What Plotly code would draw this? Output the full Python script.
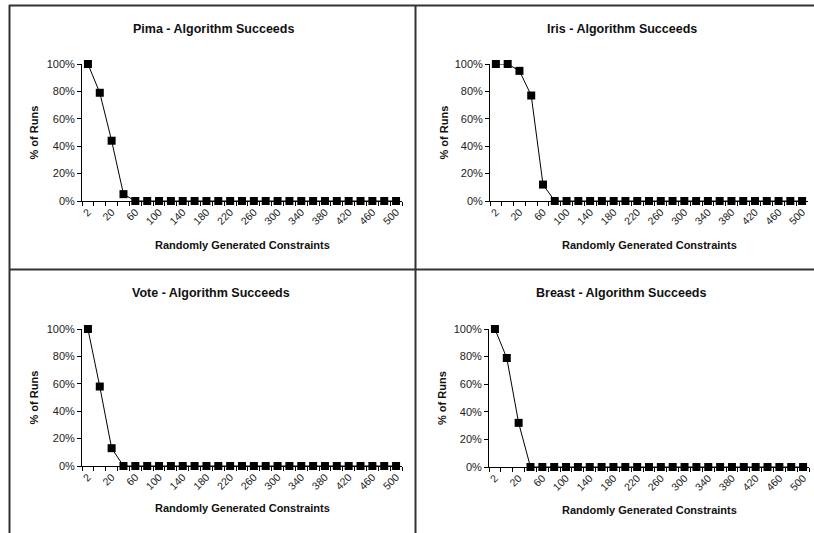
import plotly.graph_objects as go

# ---------------- data ----------------
categories = ["2", "10", "20", "40", "60", "80", "100", "120", "140", "160", "180",
              "200", "220", "240", "260", "280", "300", "320", "340", "360", "380",
              "400", "420", "440", "460", "480", "500"]
tick_labels = ["2", "20", "60", "100", "140", "180", "220", "260", "300", "340",
               "380", "420", "460", "500"]

pima = [100, 79, 44, 5, 0, 0, 0, 0, 0, 0, 0, 0, 0, 0, 0, 0, 0, 0, 0, 0, 0, 0, 0, 0, 0, 0, 0]
iris = [100, 100, 95, 77, 12, 0, 0, 0, 0, 0, 0, 0, 0, 0, 0, 0, 0, 0, 0, 0, 0, 0, 0, 0, 0, 0, 0]
vote = [100, 58, 13, 0, 0, 0, 0, 0, 0, 0, 0, 0, 0, 0, 0, 0, 0, 0, 0, 0, 0, 0, 0, 0, 0, 0, 0]
breast = [100, 79, 32, 0, 0, 0, 0, 0, 0, 0, 0, 0, 0, 0, 0, 0, 0, 0, 0, 0, 0, 0, 0, 0, 0, 0, 0]

titles = ["Pima - Algorithm Succeeds", "Iris - Algorithm Succeeds",
          "Vote - Algorithm Succeeds", "Breast - Algorithm Succeeds"]
series = [pima, iris, vote, breast]
y_title = "% of Runs"
x_title = "Randomly Generated Constraints"

# ---------------- layout (pixels) ----------------
W, H = 814, 533
FONT = "Liberation Sans, Arial, sans-serif"
# plot area: left, right, top, bottom ; title centre x, title y ; y-title x ; x-title y
geom = [
    dict(l=82, r=402, t=64, b=201, tx=213, ty=29, yx=33, xty=245),
    dict(l=490, r=808, t=64, b=201, tx=622, ty=29, yx=443, xty=245),
    dict(l=82, r=402, t=329, b=466, tx=211, ty=293, yx=33, xty=508),
    dict(l=489, r=809, t=329, b=467, tx=621, ty=293, yx=442, xty=510),
]


def fx(v):
    return v / W


def fy(v):
    return 1 - v / H


ticktext = [c if c in tick_labels else "" for c in categories]

fig = go.Figure()
annotations = []
layout_axes = {}
for i, (title, vals, g) in enumerate(zip(titles, series, geom), start=1):
    fig.add_trace(go.Scatter(
        x=categories, y=vals, mode="lines+markers",
        line=dict(color="black", width=1),
        marker=dict(symbol="square", size=8, color="black"),
        cliponaxis=False, showlegend=False,
        xaxis=f"x{i}", yaxis=f"y{i}",
    ))
    sfx = "" if i == 1 else str(i)
    layout_axes[f"xaxis{sfx}"] = dict(
        domain=[fx(g["l"]), fx(g["r"])], anchor=f"y{i}",
        type="category", range=[-0.5, len(categories) - 0.5],
        tickvals=categories, ticktext=ticktext, tickson="boundaries",
        ticks="outside", ticklen=4, tickwidth=1, tickcolor="black",
        tickangle=-45, tickfont=dict(family=FONT, size=10.5, color="#222"),
        showline=True, linecolor="black", linewidth=1, automargin=False,
        showgrid=False, zeroline=False, fixedrange=True,
    )
    layout_axes[f"yaxis{sfx}"] = dict(
        domain=[fy(g["b"]), fy(g["t"])], anchor=f"x{i}",
        range=[0, 100], dtick=20, tick0=0, ticksuffix="%",
        ticks="outside", ticklen=4, tickwidth=1, tickcolor="black",
        tickfont=dict(family=FONT, size=11, color="#222"),
        showline=True, linecolor="black", linewidth=1, automargin=False,
        showgrid=False, zeroline=False, fixedrange=True,
    )
    annotations.append(dict(
        text=f"<b>{title}</b>", x=fx(g["tx"]), y=fy(g["ty"]), xref="paper", yref="paper",
        xanchor="center", yanchor="middle", showarrow=False,
        font=dict(family=FONT, size=12.5, color="#111")))
    annotations.append(dict(
        text=f"<b>{y_title}</b>", x=fx(g["yx"]), y=fy((g["t"] + g["b"]) / 2),
        xref="paper", yref="paper", textangle=-90,
        xanchor="center", yanchor="middle", showarrow=False,
        font=dict(family=FONT, size=11, color="#111")))
    annotations.append(dict(
        text=f"<b>{x_title}</b>", x=fx((g["l"] + g["r"]) / 2), y=fy(g["xty"]),
        xref="paper", yref="paper",
        xanchor="center", yanchor="middle", showarrow=False,
        font=dict(family=FONT, size=11, color="#111")))

# panel border lines
border = "#333"
shapes = [
    dict(type="line", x0=fx(9.5), x1=fx(9.5), y0=fy(5), y1=fy(533)),
    dict(type="line", x0=fx(9), x1=fx(814), y0=fy(5.5), y1=fy(5.5)),
    dict(type="line", x0=fx(415.5), x1=fx(415.5), y0=fy(5), y1=fy(533)),
    dict(type="line", x0=fx(9), x1=fx(814), y0=fy(269.5), y1=fy(269.5)),
]
for s in shapes:
    s.update(xref="paper", yref="paper", line=dict(color=border, width=2))

fig.update_layout(
    width=W, height=H, margin=dict(l=0, r=0, t=0, b=0, pad=0), autosize=False,
    paper_bgcolor="white", plot_bgcolor="white",
    font=dict(family=FONT, color="#111"),
    annotations=annotations, shapes=shapes, **layout_axes,
)

fig.write_html(
    "out.html",
    config={"displayModeBar": False, "responsive": False},
    post_script=("document.documentElement.style.margin='0';"
                 "document.body.style.margin='0';document.body.style.padding='0';"
                 "document.body.style.overflow='hidden';"
                 "document.documentElement.style.overflow='hidden';"
                 "var gd=document.getElementById('{plot_id}');"
                 "gd.style.position='fixed';gd.style.left='0px';gd.style.top='0px';"),
)
